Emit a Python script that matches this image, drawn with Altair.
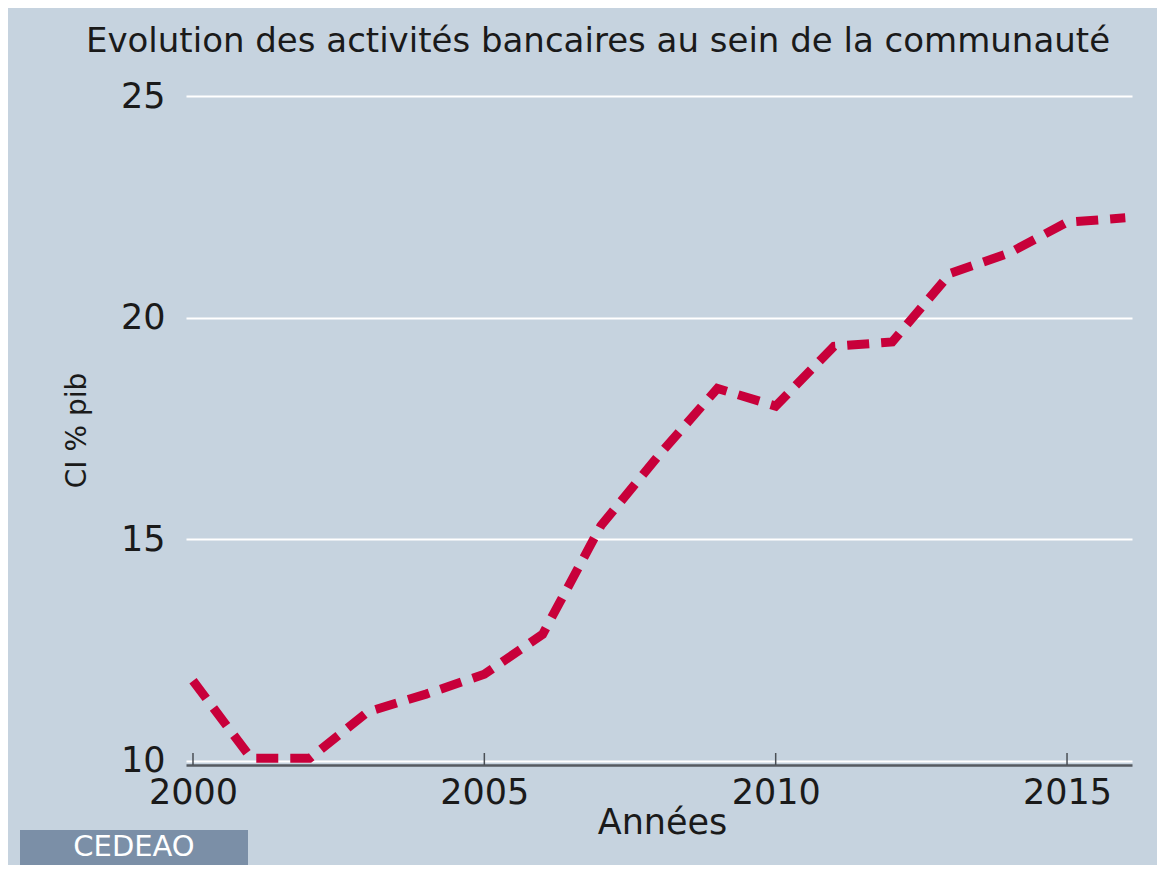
import altair as alt
import pandas as pd

years = list(range(2000, 2017))
values = [11.8, 10.05, 10.05, 11.1, 11.5, 11.95, 12.85, 15.3, 16.9, 18.4,
          18.0, 19.35, 19.45, 21.0, 21.45, 22.15, 22.25]
x_ticks = [2000, 2005, 2010, 2015]
y_ticks = [10, 15, 20, 25]
title_text = "Evolution des activités bancaires au sein de la communauté"
x_title = "Années"
y_title = "CI % pib"
badge = ["CEDEAO"]

BG = "#c6d3df"
LINE = "#c8003a"
FONT = "DejaVu Sans"
W, H = 946, 669

df = pd.DataFrame({"year": years, "value": values})
xscale = alt.Scale(domain=[1999.88, 2016.115], nice=False, zero=False)
yscale = alt.Scale(domain=[9.9, 25], nice=False, zero=False)

line = alt.Chart(df).mark_line(
    color=LINE, strokeWidth=9, strokeDash=[22, 12], strokeCap="butt"
).encode(
    x=alt.X("year:Q", scale=xscale, axis=alt.Axis(
        values=x_ticks, format="d", grid=False, domain=True,
        domainColor="#555a60", domainWidth=2.5, ticks=True, tickSize=0,
        labelFont=FONT, labelFontSize=35, labelColor="#1a1a1a",
        labelPadding=10, labelFlush=False, labelOverlap=False,
        title=x_title, titleFont=FONT, titleFontSize=35, titleFontWeight="normal",
        titleColor="#1a1a1a", titleX=476, titleY=68, titleBaseline="alphabetic",
        titleAlign="center")),
    y=alt.Y("value:Q", scale=yscale, axis=alt.Axis(
        values=y_ticks, grid=True, gridColor="white", gridWidth=2,
        domain=False, ticks=True, tickSize=0,
        labelFont=FONT, labelFontSize=35, labelColor="#1a1a1a",
        labelPadding=21, labelFlush=False, labelOverlap=False,
        title=y_title, titleFont=FONT, titleFontSize=28, titleFontWeight="normal",
        titleColor="#1a1a1a", titleX=-101, titleY=334, titleBaseline="alphabetic",
        titleAlign="center", titleAngle=270)),
)

ticks = alt.Chart(pd.DataFrame({"year": x_ticks})).mark_rule(
    color="#4a4f55", strokeWidth=1.5
).encode(x=alt.X("year:Q", scale=xscale), y=alt.value(H - 12), y2=alt.value(H))

box = alt.Chart(pd.DataFrame({"t": badge})).mark_rect(color="#7b8fa7").encode(
    x=alt.value(-166), x2=alt.value(62), y=alt.value(734), y2=alt.value(800)
)
box_text = alt.Chart(pd.DataFrame({"t": badge})).mark_text(
    color="white", font=FONT, fontSize=29, align="center", baseline="alphabetic"
).encode(x=alt.value(-52), y=alt.value(760), text="t:N")

chart = alt.layer(line, ticks, box, box_text).properties(
    width=W, height=H,
    title=alt.TitleParams(title_text, font=FONT, fontSize=34, fontWeight="normal",
                          color="#1a1a1a", anchor="middle", dx=-61, offset=20),
    autosize=alt.AutoSizeParams(type="none"),
    padding={"left": 178, "top": 88, "right": 25, "bottom": 100},
).configure(background=BG).configure_view(fill=BG, strokeWidth=0)

chart.save("out.html", embed_options={"renderer": "svg", "actions": False})
